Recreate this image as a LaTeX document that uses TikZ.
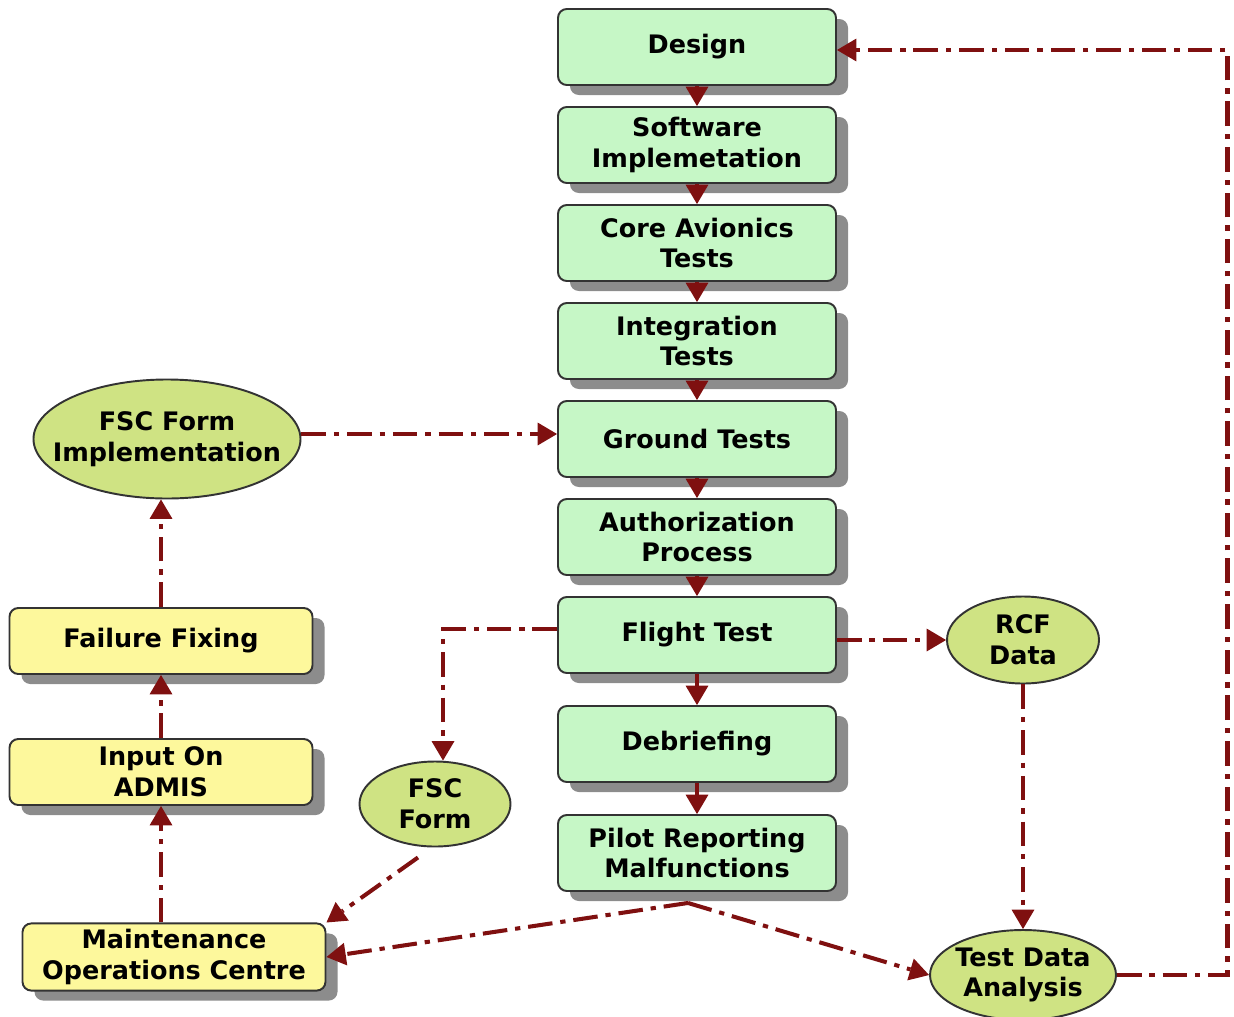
\documentclass[tikz,border=0pt]{standalone}
\usepackage{fontspec}
\setmainfont{DejaVu Sans}
\usetikzlibrary{positioning, arrows.meta, shapes.geometric, shadows}
\definecolor{stepgreen}{HTML}{C6F7C6}
\definecolor{blobgreen}{HTML}{CFE383}
\definecolor{fixyellow}{HTML}{FDF89C}
\definecolor{linkred}{HTML}{7F1010}

\begin{document}
\begin{tikzpicture}[node distance=1.96cm, on grid,
  font=\bfseries\fontsize{14.5}{17.5}\selectfont,
  phase/.style={draw=black!80, line width=1.1pt, rounded corners=5pt, fill=stepgreen,
    minimum width=5.56cm, minimum height=1.52cm, align=center,
    drop shadow={shadow xshift=2.4mm, shadow yshift=-2mm, fill=black!45, opacity=1}},
  task/.style={phase, fill=fixyellow, minimum width=6.06cm, minimum height=1.32cm},
  blob/.style={ellipse, draw=black!80, line width=1.1pt, fill=blobgreen, align=center,
    inner xsep=-1cm, inner ysep=-0.5cm},
  link/.style={color=linkred, line width=2.3pt, dash pattern=on 14pt off 4.5pt on 3pt off 4.5pt,
    -{Triangle[length=11pt,width=13pt,line width=0pt]}},
]
\useasboundingbox (0,0) rectangle (24.68,-20.32);

\node[phase] (design) at (13.94,-0.94) {Design};
\node[phase, below=of design] (software) {Software\\Implemetation};
\node[phase, below=of software] (core) {Core Avionics\\Tests};
\node[phase, below=of core] (integration) {Integration\\Tests};
\node[phase, below=of integration] (ground) {Ground Tests};
\node[phase, below=of ground] (authorization) {Authorization\\Process};
\node[phase, below=of authorization] (flight) {Flight Test};
\node[phase, below=2.18cm of flight] (debriefing) {Debriefing};
\node[phase, below=2.18cm of debriefing] (pilot) {Pilot Reporting\\Malfunctions};

\node[blob, minimum width=5.34cm, minimum height=2.38cm, left=10.6cm of ground] (fscimpl) {FSC Form\\Implementation};
\node[task, below left=4.04cm and 0.12cm of fscimpl] (fixing) {Failure Fixing};
\node[task, below=2.62cm of fixing] (admis) {Input On\\ADMIS};
\node[task, below right=3.70cm and 0.26cm of admis] (moc) {Maintenance\\Operations Centre};
\node[blob, minimum width=3.02cm, minimum height=1.70cm, below left=3.38cm and 5.24cm of flight] (fscform) {FSC\\Form};
\node[blob, minimum width=3.04cm, minimum height=1.74cm, below right=0.1cm and 6.52cm of flight] (rcf) {RCF\\Data};
\node[blob, minimum width=3.72cm, minimum height=1.8cm, below=6.7cm of rcf] (analysis) {Test Data\\Analysis};

\path[link]
(design) edge (software)
(software) edge (core)
(core) edge (integration)
(integration) edge (ground)
(ground) edge (authorization)
(authorization) edge (flight)
(flight) edge (debriefing)
(debriefing) edge (pilot)
;

\coordinate (loop) at (24.55,-1.0);
\coordinate (fork) at ([xshift=-1.8mm,yshift=-2.2mm]pilot.south);
\draw[link] ([yshift=1mm]fscimpl.east) -- ([yshift=1mm]fscimpl.east -| ground.west);
\draw[link] ([yshift=1.2mm]flight.west) -| ([xshift=1.6mm]fscform.north);
\draw[link] (flight.east |- rcf.west) -- (rcf.west);
\draw[link] (rcf.south) -- (analysis.north);
\draw[link] (analysis.east) -| (loop) -- (loop -| design.east);
\draw[link] (fork) -- (moc.east);
\draw[link] (fork) -- (analysis.west);
\draw[link] ([xshift=-3.4mm,yshift=-2mm]fscform.south) -- (moc.north east);
\draw[link] (moc.north -| admis) -- (admis.south);
\draw[link] (admis) -- (fixing);
\draw[link] (fixing.north) -- (fixing.north |- fscimpl.south);
\end{tikzpicture}
\end{document}
